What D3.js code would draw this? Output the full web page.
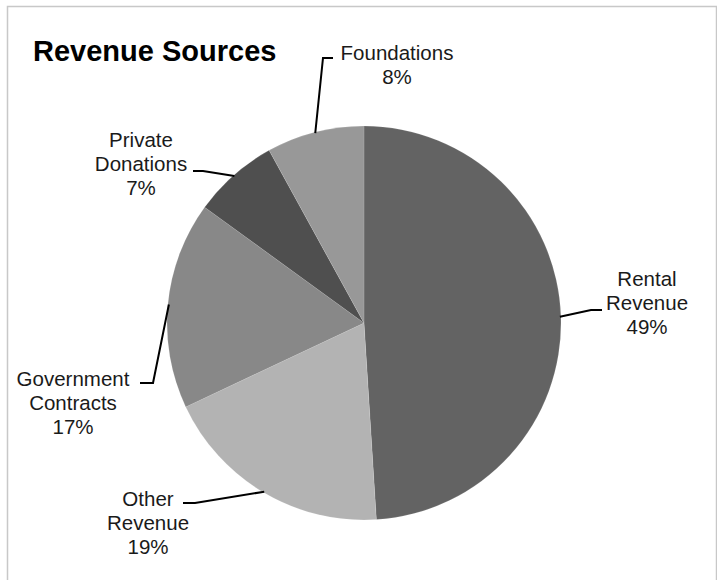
<!DOCTYPE html>
<html>
<head>
<meta charset="utf-8">
<script src="https://cdn.jsdelivr.net/npm/d3@7"></script>
<style>
  body { margin: 0; background: #fff; }
  text { font-family: "Liberation Sans", Arial, sans-serif; fill: #000; }
</style>
</head>
<body>
<div id="canvas"></div>
<script>
// data, clockwise from 12 o'clock
var categories = ['Rental Revenue', 'Other Revenue', 'Government Contracts', 'Private Donations', 'Foundations'];
var labelLines = [['Rental', 'Revenue'], ['Other', 'Revenue'], ['Government', 'Contracts'], ['Private', 'Donations'], ['Foundations']];
var values = [49, 19, 17, 7, 8];
var colors = ['#636363', '#b3b3b3', '#888888', '#4f4f4f', '#989898'];

// label placement (layout only): elbow point, stub end, text centre and first baseline
var labelPos = [
  {elbow: [591, 310], stub: [602, 310], cx: 647, y: 286},
  {elbow: [195, 503], stub: [183, 503], cx: 148, y: 506},
  {elbow: [153, 383], stub: [140, 383], cx: 73, y: 386},
  {elbow: [203, 171], stub: [193, 171], cx: 141, y: 147},
  {elbow: [323, 58], stub: [333, 58], cx: 397, y: 60}
];

var W = 717, H = 580;
var cx = 364, cy = 323, r = 197;

var svg = d3.select('#canvas')
    .append('svg')
    .attr('width', W)
    .attr('height', H);

// outer frame
svg.append('rect')
    .attr('x', 7.5).attr('y', 6.5)
    .attr('width', 709).attr('height', 600)
    .attr('fill', 'none')
    .attr('stroke', '#c8c8c8')
    .attr('stroke-width', 1.5);

svg.append('text')
    .attr('x', 33)
    .attr('y', 61)
    .attr('font-size', 29)
    .attr('font-weight', 'bold')
    .text('Revenue Sources');

var pie = d3.pie().sort(null).value(function(d){ return d; });
var arcs = pie(values);

var arc = d3.arc().innerRadius(0).outerRadius(r);

var plot = svg.append('g')
    .attr('transform', 'translate(' + cx + ',' + cy + ')');

plot.selectAll('.slice')
    .data(arcs)
    .enter()
    .append('path')
    .attr('class', 'slice')
    .attr('d', arc)
    .attr('fill', function(d, i){ return colors[i]; })
    .attr('stroke', 'rgba(255,255,255,0.2)')
    .attr('stroke-width', 0.6);

// leader lines start at the mid point of each slice's arc
function edgePoint(d){
  var a = (d.startAngle + d.endAngle) / 2;
  return [cx + Math.sin(a) * (r - 1), cy - Math.cos(a) * (r - 1)];
}

var leaders = svg.append('g');
arcs.forEach(function(d, i){
  var p = labelPos[i];
  leaders.append('path')
      .attr('d', d3.line()([edgePoint(d), p.elbow, p.stub]))
      .attr('fill', 'none')
      .attr('stroke', '#000')
      .attr('stroke-width', 2);

  var t = svg.append('text')
      .attr('text-anchor', 'middle')
      .attr('font-size', 20.5)
      .style('fill', '#1a1a1a');
  var lines = labelLines[i].concat([values[i] + '%']);
  lines.forEach(function(s, j){
    t.append('tspan')
        .attr('x', p.cx)
        .attr('y', p.y + j * 24)
        .text(s);
  });
});
</script>
</body>
</html>
